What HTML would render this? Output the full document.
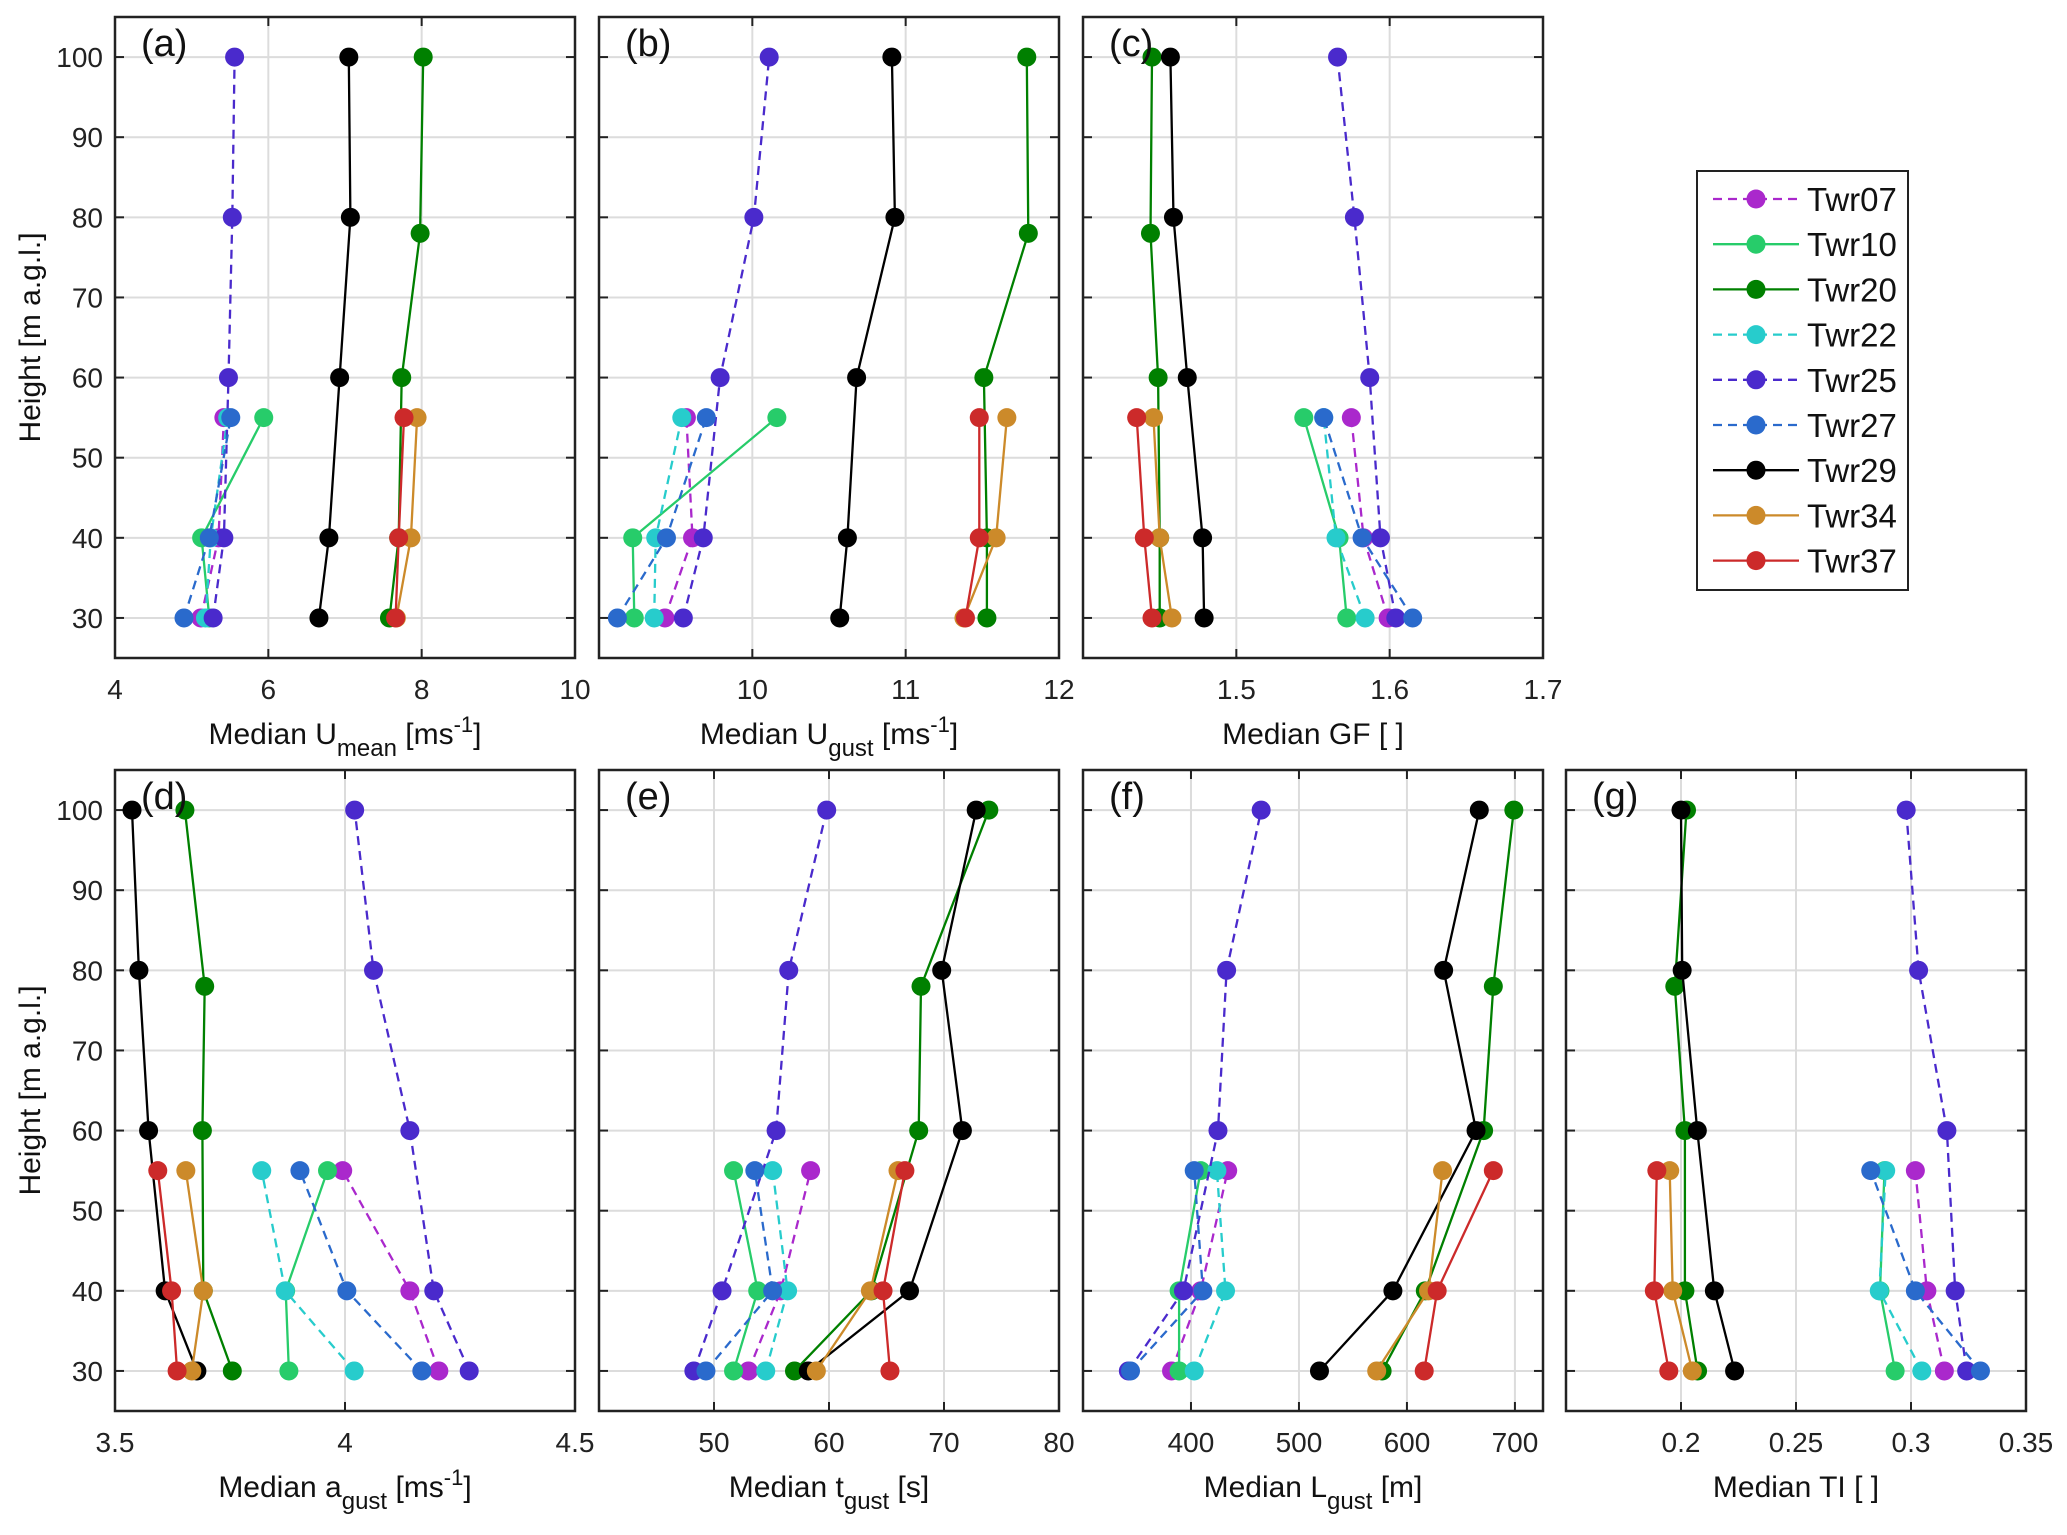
<!DOCTYPE html>
<html><head><meta charset="utf-8">
<style>
html,body{margin:0;padding:0;background:#fff;}
svg{display:block;font-family:"Liberation Sans",Arial,sans-serif;}
</style></head>
<body>
<svg id="fig" xmlns="http://www.w3.org/2000/svg" width="2067" height="1535" viewBox="0 0 2067 1535"></svg>
<script>
// ---- data ----
const towers = ["Twr07","Twr10","Twr20","Twr22","Twr25","Twr27","Twr29","Twr34","Twr37"];
const heights = [[30,40,55],[30,40,55],[30,40,60,78,100],[30,40,55],[30,40,60,80,100],[30,40,55],[30,40,60,80,100],[30,40,55],[30,40,55]];
const uMean = [[5.12,5.35,5.42],[5.23,5.13,5.94],[7.58,7.70,7.74,7.98,8.02],[5.18,5.25,5.47],[5.28,5.42,5.48,5.53,5.56],[4.90,5.23,5.51],[6.66,6.79,6.93,7.07,7.05],[7.67,7.86,7.94],[7.66,7.70,7.77]];
const uGust = [[9.43,9.61,9.57],[9.23,9.22,10.16],[11.53,11.53,11.51,11.80,11.79],[9.36,9.37,9.54],[9.55,9.68,9.79,10.01,10.11],[9.12,9.44,9.70],[10.57,10.62,10.68,10.93,10.91],[11.38,11.59,11.66],[11.39,11.48,11.48]];
const gustFactor = [[1.599,1.583,1.575],[1.572,1.567,1.544],[1.450,1.450,1.449,1.444,1.445],[1.584,1.565,1.557],[1.604,1.594,1.587,1.577,1.566],[1.615,1.582,1.557],[1.479,1.478,1.468,1.459,1.457],[1.458,1.450,1.446],[1.445,1.440,1.435]];
const aGust = [[4.204,4.141,3.995],[3.878,3.871,3.962],[3.755,3.692,3.690,3.695,3.652],[4.02,3.87,3.819],[4.27,4.193,4.141,4.062,4.021],[4.167,4.004,3.902],[3.678,3.609,3.573,3.552,3.537],[3.667,3.692,3.654],[3.635,3.623,3.593]];
const tGust = [[53.0,55.8,58.4],[51.7,53.8,51.7],[57.0,63.7,67.8,68.0,73.9],[54.5,56.4,55.1],[48.25,50.7,55.4,56.5,59.8],[49.3,55.1,53.55],[58.2,67.0,71.6,69.8,72.8],[58.9,63.6,66.0],[65.3,64.7,66.6]];
const lGust = [[382,409,434],[389,389,409],[577,617,671,680,699],[403,432,424],[342,393,425,433,465],[344,411,403],[519,587,664,634,667],[572,620,633],[616,628,680]];
const turbInt = [[0.3145,0.3069,0.3019],[0.2931,0.2865,0.2885],[0.2072,0.2017,0.2017,0.1973,0.2024],[0.3047,0.2862,0.289],[0.3242,0.3192,0.3156,0.3033,0.2979],[0.3302,0.3019,0.2825],[0.2233,0.2145,0.2071,0.2005,0.2],[0.2049,0.1964,0.1951],[0.1947,0.1884,0.1895]];
const yTicks = [30,40,50,60,70,80,90,100];
const xTicksA = [4,6,8,10], xTicksB = [10,11,12], xTicksC = [1.5,1.6,1.7];
const xTicksD = [3.5,4,4.5], xTicksE = [50,60,70,80], xTicksF = [400,500,600,700], xTicksG = [0.2,0.25,0.3,0.35];

const colors = ["#aa28cc","#27cc6a","#008000","#27cccc","#4a2acc","#2a6acc","#000000","#cc8a2a","#cc2a2a"];
const dashed = [true,false,false,true,true,true,false,false,false];

const NS = "http://www.w3.org/2000/svg";
const svg = document.getElementById('fig');
function mk(tag, attrs, parent){const e=document.createElementNS(NS,tag);for(const k in attrs)e.setAttribute(k,attrs[k]);(parent||svg).appendChild(e);return e;}

const panels = [
 {id:"a",x:115,y:17,vals:uMean,xmin:4,xmax:10,ticks:xTicksA,lab:["Median U","mean"," [ms","-1","]"],ylab:true},
 {id:"b",x:599,y:17,vals:uGust,xmin:9,xmax:12,ticks:xTicksB,lab:["Median U","gust"," [ms","-1","]"]},
 {id:"c",x:1083,y:17,vals:gustFactor,xmin:1.4,xmax:1.7,ticks:xTicksC,lab:["Median  GF [ ]"]},
 {id:"d",x:115,y:770,vals:aGust,xmin:3.5,xmax:4.5,ticks:xTicksD,lab:["Median a","gust"," [ms","-1","]"],ylab:true},
 {id:"e",x:599,y:770,vals:tGust,xmin:40,xmax:80,ticks:xTicksE,lab:["Median t","gust"," [s]"]},
 {id:"f",x:1083,y:770,vals:lGust,xmin:300,xmax:726,ticks:xTicksF,lab:["Median L","gust"," [m]"]},
 {id:"g",x:1566,y:770,vals:turbInt,xmin:0.15,xmax:0.35,ticks:xTicksG,lab:["Median  TI [ ]"]}
];
const W=460,H=641,YMIN=25,YMAX=105;

panels.forEach(p=>{
  const g=mk('g',{});
  
  
  const sx=v=>p.x+(v-p.xmin)/(p.xmax-p.xmin)*W;
  const sy=v=>p.y+H-(v-YMIN)/(YMAX-YMIN)*H;
  mk('rect',{x:p.x,y:p.y,width:W,height:H,fill:'#fff'},g);
  // grid
  yTicks.forEach(t=>{const l=mk('line',{x1:p.x,x2:p.x+W,y1:sy(t),y2:sy(t),stroke:'#dcdcdc','stroke-width':2},g);
    });
  p.ticks.forEach(t=>{const X=sx(t);if(X>p.x+1&&X<p.x+W-1){const l=mk('line',{x1:X,x2:X,y1:p.y,y2:p.y+H,stroke:'#dcdcdc','stroke-width':2},g);
    }});
  // ticks
  yTicks.forEach(t=>{mk('line',{x1:p.x,x2:p.x+9,y1:sy(t),y2:sy(t),stroke:'#222','stroke-width':2},g);
    mk('line',{x1:p.x+W-9,x2:p.x+W,y1:sy(t),y2:sy(t),stroke:'#222','stroke-width':2},g);
    if(p.ylab){const tx=mk('text',{x:p.x-12,y:sy(t)+10,'font-size':28,'text-anchor':'end',fill:'#222'},g);tx.textContent=t;
      }});
  p.ticks.forEach(t=>{const X=sx(t);
    mk('line',{x1:X,x2:X,y1:p.y+H,y2:p.y+H-9,stroke:'#222','stroke-width':2},g);
    mk('line',{x1:X,x2:X,y1:p.y,y2:p.y+9,stroke:'#222','stroke-width':2},g);
    const tx=mk('text',{x:X,y:p.y+H+41,'font-size':28,'text-anchor':'middle',fill:'#222'},g);tx.textContent=String(t);
    });
  // series
  p.vals.forEach((vals,i)=>{
    const sg=mk('g',{},g);
    
    
    const pts=vals.map((v,j)=>sx(v).toFixed(1)+','+sy(heights[i][j]).toFixed(1)).join(' ');
    const pl=mk('polyline',{points:pts,fill:'none',stroke:colors[i],'stroke-width':2.3},sg);
    if(dashed[i])pl.setAttribute('stroke-dasharray','9,6');
    
    vals.forEach((v,j)=>{const c=mk('circle',{cx:sx(v),cy:sy(heights[i][j]),r:9.5,fill:colors[i]},sg);
      });
  });
  mk('rect',{x:p.x,y:p.y,width:W,height:H,fill:'none',stroke:'#222','stroke-width':2.5},g);
  const lt=mk('text',{x:p.x+26,y:p.y+39,'font-size':38,fill:'#111'},g);lt.textContent='('+p.id+')';
  
  // x label
  const xl=mk('text',{x:p.x+W/2,y:p.y+H+86,'font-size':30,'text-anchor':'middle',fill:'#111'},g);
  
  if(p.lab.length===1){xl.textContent=p.lab[0];}
  else{p.lab.forEach((s,k)=>{const ts=mk('tspan',{},xl);ts.textContent=s;
      if(k===1){ts.setAttribute('font-size',24);ts.setAttribute('dy',12);}
      if(k===2){ts.setAttribute('dy',-12);}
      if(k===3){ts.setAttribute('font-size',22);ts.setAttribute('dy',-12);}
      if(k===4){ts.setAttribute('dy',12);}});}
  if(p.ylab){const yl=mk('text',{x:0,y:0,'font-size':30,'text-anchor':'middle',fill:'#111',transform:`translate(40,${p.y+H/2}) rotate(-90)`},g);
    yl.textContent='Height [m a.g.l.]';}
});

// legend
const lg=mk('g',{});


mk('rect',{x:1697,y:171,width:211,height:419,fill:'#fff',stroke:'#222','stroke-width':2},lg);
towers.forEach((t,i)=>{
  const ey=199+i*45.2;
  const eg=mk('g',{},lg);
  
  
  const l=mk('line',{x1:1713,x2:1799,y1:ey,y2:ey,stroke:colors[i],'stroke-width':2.3},eg);
  if(dashed[i])l.setAttribute('stroke-dasharray','9,6');
  mk('circle',{cx:1756,cy:ey,r:9.5,fill:colors[i]},eg);
  const tx=mk('text',{x:1807,y:ey+12,'font-size':33,fill:'#111'},eg);tx.textContent=t;
});
</script>
</body></html>
